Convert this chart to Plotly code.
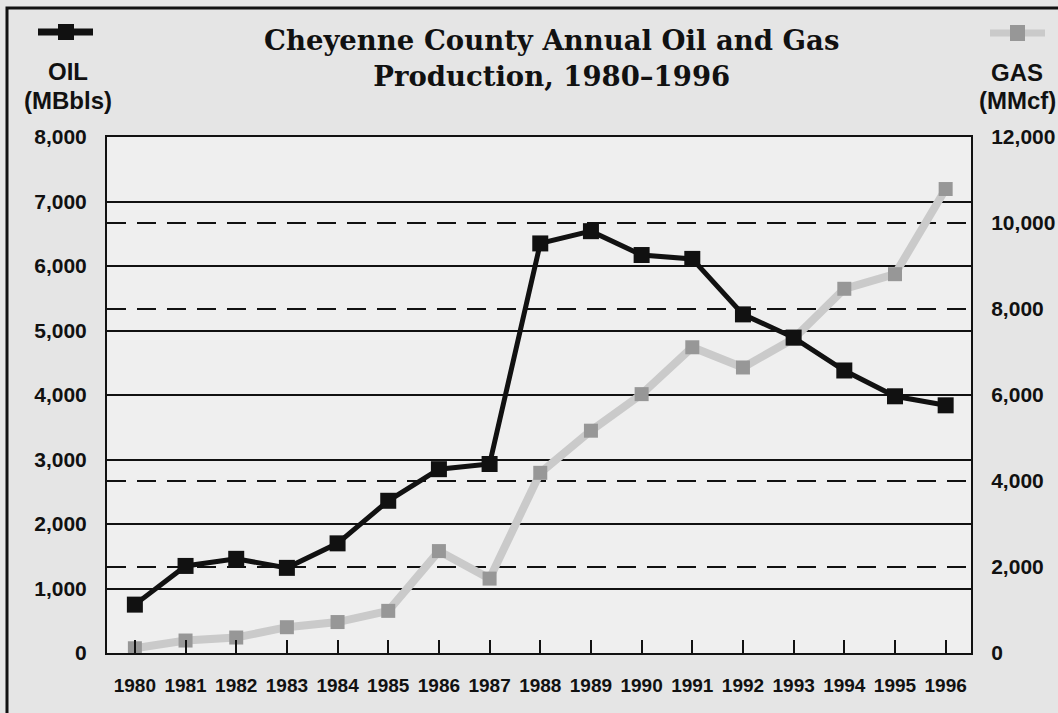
import plotly.graph_objects as go

years = list(range(1980, 1997))
oil_mbbls = [750, 1350, 1460, 1320, 1700, 2360, 2850, 2930, 6350, 6540,
             6170, 6110, 5250, 4890, 4380, 3980, 3840]
gas_mmcf = [110, 290, 360, 600, 720, 980, 2370, 1730, 4190, 5170,
            6020, 7110, 6640, 7310, 8470, 8810, 10790]
oil_ticks = [0, 1000, 2000, 3000, 4000, 5000, 6000, 7000, 8000]
gas_ticks = [0, 2000, 4000, 6000, 8000, 10000, 12000]

W, H = 1058, 713
ML, MR, MT, MB = 107, 87, 137, 60
PW, PH = W - ML - MR, H - MT - MB


def px(x):
    return (x - ML) / PW


def py(y):
    return (H - MB - y) / PH


fig = go.Figure()

fig.add_trace(go.Scatter(
    x=years, y=gas_mmcf, yaxis="y", mode="lines+markers", name="GAS",
    line=dict(color="#cacaca", width=8),
    marker=dict(symbol="square", size=14, color="#979797",
                line=dict(width=0)),
))
fig.add_trace(go.Scatter(
    x=years, y=oil_mbbls, yaxis="y2", mode="lines+markers", name="OIL",
    line=dict(color="#111111", width=5),
    marker=dict(symbol="square", size=16, color="#111111",
                line=dict(width=0)),
))

tickfont = dict(family="Liberation Sans, Arial, sans-serif", size=21,
                color="#111111", weight="bold")

fig.update_layout(
    width=W, height=H,
    margin=dict(l=ML, r=MR, t=MT, b=MB, autoexpand=False),
    paper_bgcolor="#e5e5e5",
    plot_bgcolor="#efefef",
    showlegend=False,
    xaxis=dict(
        range=[1979.45, 1996.5], tickvals=years,
        ticktext=[str(y) for y in years], automargin=False,
        ticks="inside", ticklen=13, tickwidth=2, tickcolor="#111111",
        showgrid=False, zeroline=False,
        showline=True, linecolor="#111111", linewidth=2, mirror=True,
        tickfont=dict(family="Liberation Sans, Arial, sans-serif", size=19,
                      color="#111111", weight="bold"),
        ticklabelstandoff=14,
    ),
    yaxis=dict(
        side="right", range=[0, 12000], tickvals=gas_ticks,
        ticktext=[f"{v:,}" for v in gas_ticks], automargin=False,
        showgrid=True, gridcolor="#111111", gridwidth=2, griddash="19px,11px",
        zeroline=False, ticks="", tickfont=tickfont, ticklabelstandoff=14,
        showline=True, linecolor="#111111", linewidth=2,
    ),
    yaxis2=dict(
        side="left", overlaying="y", range=[0, 8000], tickvals=oil_ticks,
        ticktext=[f"{v:,}" for v in oil_ticks], automargin=False,
        showgrid=True, gridcolor="#111111", gridwidth=2,
        zeroline=False, ticks="", tickfont=tickfont, ticklabelstandoff=14,
        showline=True, linecolor="#111111", linewidth=2,
    ),
)

shapes = [
    # outer frame (top and left visible in the crop)
    dict(type="rect", xref="paper", yref="paper",
         x0=px(7), y0=py(740), x1=px(1090), y1=py(8),
         line=dict(color="#111111", width=3), fillcolor="rgba(0,0,0,0)",
         layer="below"),
    # oil legend symbol
    dict(type="line", xref="paper", yref="paper",
         x0=px(38), x1=px(93), y0=py(32), y1=py(32),
         line=dict(color="#111111", width=7)),
    dict(type="rect", xref="paper", yref="paper",
         x0=px(58), x1=px(74), y0=py(40), y1=py(24),
         line=dict(width=0), fillcolor="#111111"),
    # gas legend symbol
    dict(type="line", xref="paper", yref="paper",
         x0=px(990), x1=px(1045), y0=py(33), y1=py(33),
         line=dict(color="#cacaca", width=7)),
    dict(type="rect", xref="paper", yref="paper",
         x0=px(1010), x1=px(1025), y0=py(41), y1=py(25),
         line=dict(width=0), fillcolor="#979797"),
]
fig.update_layout(shapes=shapes)

label_font = dict(family="Liberation Sans, Arial, sans-serif", size=24,
                  color="#111111", weight="bold")
title_font = dict(family="DejaVu Serif, serif", size=27.5,
                  color="#111111", weight="bold")

annotations = [
    dict(text="Cheyenne County Annual Oil and Gas<br>Production, 1980\u20131996",
         x=px(551), y=py(58), xref="paper", yref="paper",
         xanchor="center", yanchor="middle", showarrow=False,
         font=title_font, align="center"),
    dict(text="OIL", x=px(68), y=py(71), xref="paper", yref="paper",
         xanchor="center", yanchor="middle", showarrow=False, font=label_font),
    dict(text="(MBbls)", x=px(68), y=py(100), xref="paper", yref="paper",
         xanchor="center", yanchor="middle", showarrow=False, font=label_font),
    dict(text="GAS", x=px(1017), y=py(72), xref="paper", yref="paper",
         xanchor="center", yanchor="middle", showarrow=False, font=label_font),
    dict(text="(MMcf)", x=px(1017), y=py(100), xref="paper", yref="paper",
         xanchor="center", yanchor="middle", showarrow=False, font=label_font),
]
fig.update_layout(annotations=annotations)

fig.write_html(
    "out.html",
    config={"displayModeBar": False, "staticPlot": True},
    post_script="document.body.style.margin='0';"
                "document.body.style.overflow='hidden';",
)
